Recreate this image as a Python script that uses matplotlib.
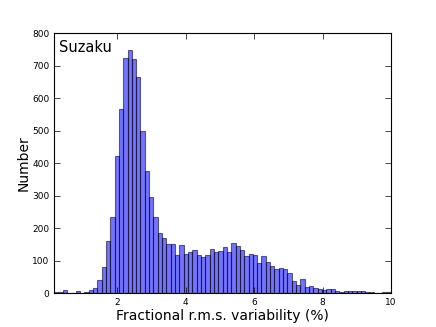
import numpy as np
import matplotlib
matplotlib.use("Agg")
import matplotlib.pyplot as plt

# histogram counts (78 bins between 0.15 and 10 %)
x_min = 0.15
x_max = 10.0
counts = [3, 4, 10, 2, 1, 8, 2, 4, 9, 17,
          42, 81, 160, 236, 423, 566, 725, 748, 722, 666,
          501, 375, 297, 234, 186, 170, 151, 151, 118, 149,
          121, 127, 134, 119, 113, 118, 137, 128, 131, 142,
          128, 155, 146, 134, 114, 120, 117, 93, 115, 97,
          84, 75, 78, 74, 62, 38, 27, 44, 19, 22,
          16, 12, 11, 13, 13, 7, 5, 7, 6, 6,
          7, 6, 5, 3, 2, 2, 4, 4]

edges = np.linspace(x_min, x_max, len(counts) + 1)
centres = 0.5 * (edges[:-1] + edges[1:])

fig = plt.figure(figsize=(4.36, 3.27), dpi=100)
ax = fig.add_axes([0.124, 0.103, 0.773, 0.795])

ax.hist(centres, bins=edges, weights=counts, color='blue', alpha=0.55,
        edgecolor='black', linewidth=0.8)

ax.set_xlim(x_min, x_max)
ax.set_ylim(0, 800)
ax.set_xticks([2, 4, 6, 8, 10])
ax.set_yticks(np.arange(0, 801, 100))
ax.tick_params(direction='in', top=True, right=True, labelsize=6.5, length=4, width=0.5)
for s in ax.spines.values():
    s.set_linewidth(0.8)

ax.set_xlabel('Fractional r.m.s. variability (%)', fontsize=10, labelpad=1)
ax.set_ylabel('Number', fontsize=10)
ax.yaxis.set_label_coords(-0.07, 0.5)
ax.text(0.015, 0.975, 'Suzaku', transform=ax.transAxes, fontsize=10.5,
        va='top', ha='left')

fig.savefig('out.png', dpi=100)
